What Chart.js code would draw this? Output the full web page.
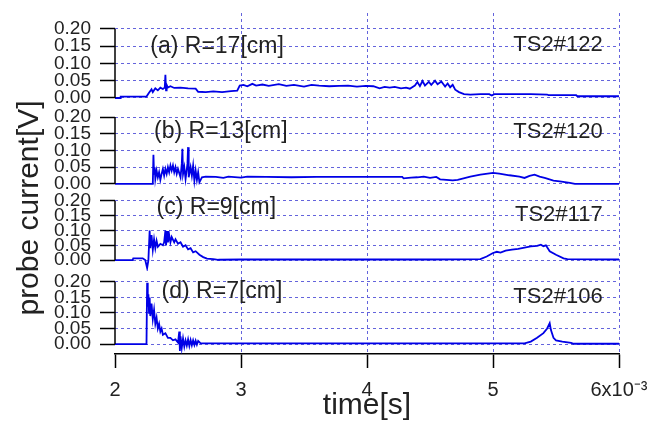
<!DOCTYPE html>
<html>
<head>
<meta charset="utf-8">
<script src="https://cdn.jsdelivr.net/npm/chart.js@4"></script>
<style>
  html, body { margin: 0; padding: 0; background: #fff; }
  #wrap { width: 654px; height: 421px; }
</style>
</head>
<body>
<div id="wrap"><canvas id="probeChart" width="654" height="421"></canvas></div>
<script>
// time [ms] and probe current [V]
const T_A = [2.00, 2.04, 2.045, 2.25, 2.27, 2.29, 2.30, 2.32, 2.34, 2.36, 2.38, 2.395, 2.40, 2.405, 2.41, 2.42, 2.44, 2.47, 2.52, 2.58, 2.64, 2.66, 2.72, 2.78, 2.85, 2.92, 2.97, 2.99, 3.02, 3.05, 3.09, 3.12, 3.17, 3.22, 3.30, 3.36, 3.42, 3.50, 3.56, 3.62, 3.70, 3.78, 3.85, 3.92, 3.99, 4.05, 4.10, 4.14, 4.18, 4.22, 4.27, 4.31, 4.34, 4.38, 4.40, 4.42, 4.44, 4.46, 4.49, 4.51, 4.54, 4.56, 4.59, 4.62, 4.64, 4.66, 4.68, 4.70, 4.73, 4.77, 4.82, 4.90, 4.97, 4.99, 5.01, 5.10, 5.30, 5.43, 5.44, 5.66, 5.67, 6.00];
const I_A = [0.000, 0.000, 0.004, 0.004, 0.015, 0.025, 0.017, 0.028, 0.022, 0.030, 0.026, 0.030, 0.067, 0.022, 0.038, 0.030, 0.034, 0.029, 0.030, 0.028, 0.027, 0.018, 0.017, 0.019, 0.017, 0.020, 0.021, 0.036, 0.038, 0.034, 0.041, 0.036, 0.039, 0.035, 0.040, 0.035, 0.038, 0.033, 0.038, 0.036, 0.034, 0.035, 0.036, 0.033, 0.035, 0.034, 0.028, 0.032, 0.030, 0.032, 0.028, 0.030, 0.027, 0.036, 0.046, 0.034, 0.049, 0.036, 0.047, 0.038, 0.050, 0.040, 0.048, 0.033, 0.042, 0.031, 0.038, 0.024, 0.017, 0.011, 0.010, 0.011, 0.011, 0.007, 0.011, 0.011, 0.011, 0.010, 0.008, 0.008, 0.005, 0.005];

const T_B = [2.00, 2.30, 2.305, 2.31, 2.315, 2.32, 2.33, 2.34, 2.35, 2.36, 2.37, 2.38, 2.39, 2.40, 2.41, 2.42, 2.43, 2.44, 2.45, 2.46, 2.47, 2.48, 2.49, 2.50, 2.52, 2.53, 2.535, 2.54, 2.55, 2.56, 2.575, 2.58, 2.585, 2.60, 2.61, 2.62, 2.63, 2.64, 2.65, 2.66, 2.67, 2.69, 2.72, 2.80, 2.86, 2.90, 3.00, 3.05, 3.20, 3.40, 3.60, 4.00, 4.28, 4.29, 4.35, 4.40, 4.45, 4.50, 4.55, 4.58, 4.68, 4.72, 4.82, 4.90, 5.00, 5.05, 5.13, 5.21, 5.25, 5.29, 5.33, 5.37, 5.41, 5.48, 5.53, 5.61, 5.65, 6.00];
const I_B = [0.000, 0.000, 0.087, 0.030, 0.050, 0.015, 0.040, 0.020, 0.035, 0.012, 0.030, 0.045, 0.025, 0.045, 0.030, 0.050, 0.035, 0.055, 0.040, 0.055, 0.035, 0.050, 0.030, 0.045, 0.020, 0.060, 0.105, 0.030, 0.050, 0.015, 0.060, 0.110, 0.020, 0.050, 0.025, 0.055, 0.010, 0.040, 0.012, 0.035, 0.005, 0.020, 0.022, 0.021, 0.018, 0.022, 0.019, 0.022, 0.021, 0.020, 0.021, 0.021, 0.021, 0.017, 0.019, 0.020, 0.022, 0.018, 0.021, 0.014, 0.011, 0.012, 0.022, 0.028, 0.033, 0.031, 0.026, 0.022, 0.018, 0.024, 0.028, 0.022, 0.018, 0.010, 0.008, 0.003, 0.000, 0.000];

const T_C = [2.00, 2.14, 2.145, 2.22, 2.24, 2.255, 2.265, 2.275, 2.28, 2.29, 2.30, 2.31, 2.32, 2.33, 2.34, 2.36, 2.38, 2.39, 2.40, 2.405, 2.415, 2.42, 2.43, 2.44, 2.45, 2.47, 2.48, 2.50, 2.52, 2.54, 2.56, 2.58, 2.60, 2.62, 2.64, 2.67, 2.70, 2.73, 2.78, 2.82, 3.00, 3.50, 4.00, 4.50, 4.90, 4.95, 5.00, 5.03, 5.06, 5.10, 5.15, 5.20, 5.25, 5.30, 5.35, 5.38, 5.40, 5.42, 5.45, 5.50, 5.56, 5.59, 6.00];
const I_C = [0.000, 0.000, 0.006, 0.006, 0.000, -0.027, 0.000, 0.100, 0.040, 0.085, 0.035, 0.070, 0.040, 0.065, 0.045, 0.055, 0.050, 0.060, 0.100, 0.050, 0.098, 0.060, 0.085, 0.060, 0.078, 0.060, 0.070, 0.055, 0.060, 0.045, 0.050, 0.036, 0.040, 0.026, 0.030, 0.018, 0.010, 0.005, 0.003, 0.001, 0.002, 0.002, 0.002, 0.002, 0.003, 0.012, 0.024, 0.028, 0.025, 0.032, 0.035, 0.038, 0.042, 0.046, 0.048, 0.052, 0.047, 0.050, 0.030, 0.018, 0.006, 0.003, 0.002];

const T_D = [2.00, 2.25, 2.255, 2.26, 2.265, 2.27, 2.275, 2.28, 2.29, 2.30, 2.31, 2.32, 2.33, 2.34, 2.35, 2.36, 2.37, 2.38, 2.40, 2.42, 2.44, 2.46, 2.48, 2.50, 2.51, 2.515, 2.52, 2.53, 2.54, 2.55, 2.56, 2.57, 2.58, 2.59, 2.60, 2.61, 2.62, 2.63, 2.64, 2.65, 2.66, 2.68, 2.75, 3.00, 4.00, 5.25, 5.30, 5.35, 5.40, 5.43, 5.45, 5.46, 5.48, 5.50, 5.55, 5.62, 5.64, 6.00];
const I_D = [0.000, 0.000, 0.197, 0.120, 0.160, 0.100, 0.150, 0.090, 0.130, 0.080, 0.110, 0.065, 0.085, 0.050, 0.065, 0.040, 0.050, 0.030, 0.035, 0.020, 0.020, 0.012, 0.015, 0.005, 0.040, -0.022, 0.025, -0.012, 0.018, -0.008, 0.012, -0.005, 0.015, -0.006, 0.013, -0.004, 0.012, -0.003, 0.011, -0.002, 0.010, 0.002, 0.002, 0.002, 0.002, 0.002, 0.008, 0.020, 0.035, 0.050, 0.067, 0.045, 0.020, 0.012, 0.008, 0.004, 0.001, 0.001];

const X_TICKS = [2, 3, 4, 5, 6];
const Y_TICKS = [0, 0.05, 0.10, 0.15, 0.20];
const PANEL_LABELS = ['(a) R=17[cm]', '(b) R=13[cm]', '(c) R=9[cm]', '(d) R=7[cm]'];
const SHOT_LABELS = ['TS2#122', 'TS2#120', 'TS2#117', 'TS2#106'];

const GRID = '#6464dc';
const LINE = '#0000e6';
const FONT = "'Liberation Sans', Arial, sans-serif";

function toPoints(t, v) {
    return t.map((x, i) => ({ x: x, y: v[i] }));
}

// panel layout: axis id, range and share of the stacked height
const PANELS = [
    { id: 'ya', min: -0.029, max: 0.246, weight: 95, labelT: 2.28, labelY: 0.148, shotY: 0.154 },
    { id: 'yb', min: -0.027, max: 0.227, weight: 85, labelT: 2.31, labelY: 0.155, shotY: 0.155 },
    { id: 'yc', min: -0.037, max: 0.227, weight: 78, labelT: 2.33, labelY: 0.176, shotY: 0.153 },
    { id: 'yd', min: -0.032, max: 0.235, weight: 83, labelT: 2.37, labelY: 0.168, shotY: 0.152 }
];

function panelAxis(p) {
    return {
        type: 'linear',
        position: 'left',
        stack: 'probe',
        stackWeight: p.weight,
        min: p.min,
        max: p.max,
        afterBuildTicks: s => { s.ticks = Y_TICKS.map(v => ({ value: v })); },
        afterFit: s => {
            s.width = 115;
            s.paddingTop = 0;
            s.paddingBottom = 0;
        },
        border: { display: false, dash: [3, 3] },
        grid: {
            color: GRID,
            tickColor: '#000',
            tickLength: 15,
            tickWidth: 1.5,
            tickBorderDash: []
        },
        ticks: {
            color: '#222',
            padding: 9,
            autoSkip: false,
            font: { family: FONT, size: 19 },
            callback: v => Number(v).toFixed(2)
        }
    };
}

const panelText = {
    id: 'panelText',
    afterDraw(chart) {
        const { ctx, chartArea } = chart;
        const xs = chart.scales.x;
        ctx.save();
        // left axis segment of each panel
        ctx.strokeStyle = '#000';
        ctx.lineWidth = 1.5;
        PANELS.forEach(p => {
            const s = chart.scales[p.id];
            ctx.beginPath();
            ctx.moveTo(chartArea.left, s.getPixelForValue(0.20));
            ctx.lineTo(chartArea.left, s.getPixelForValue(0));
            ctx.stroke();
        });
        // panel annotations
        ctx.fillStyle = '#222';
        ctx.textBaseline = 'middle';
        PANELS.forEach((p, i) => {
            const s = chart.scales[p.id];
            ctx.font = '23px ' + FONT;
            ctx.textAlign = 'left';
            ctx.fillText(PANEL_LABELS[i], xs.getPixelForValue(p.labelT), s.getPixelForValue(p.labelY));
            ctx.font = '22px ' + FONT;
            ctx.textAlign = 'right';
            ctx.fillText(SHOT_LABELS[i], xs.getPixelForValue(5.87), s.getPixelForValue(p.shotY));
        });
        // shared y title
        ctx.translate(30, 208);
        ctx.rotate(-Math.PI / 2);
        ctx.textAlign = 'center';
        ctx.font = '30px ' + FONT;
        ctx.fillText('probe current[V]', 0, 0);
        ctx.restore();
    }
};

const scales = {
    x: {
        type: 'linear',
        min: 2,
        max: 6,
        afterBuildTicks: s => { s.ticks = X_TICKS.map(v => ({ value: v })); },
        afterFit: s => {
            s.height = 67;
            s.paddingLeft = 0;
            s.paddingRight = 0;
        },
        border: { display: true, color: '#000', width: 1.5, dash: [3, 3] },
        grid: {
            color: c => (c.tick && c.tick.value === 2) ? 'rgba(0,0,0,0)' : GRID,
            tickColor: '#000',
            tickLength: 14,
            tickWidth: 1.5,
            tickBorderDash: []
        },
        ticks: {
            color: '#222',
            padding: 10,
            autoSkip: false,
            maxRotation: 0,
            font: { family: FONT, size: 20 },
            callback: v => v === 6 ? '6x10\u207B\u00B3' : String(v)
        },
        title: {
            display: true,
            text: 'time[s]',
            color: '#222',
            padding: { top: 0, bottom: 0 },
            font: { family: FONT, size: 30, lineHeight: 1 }
        }
    }
};
// bottom panel first so that (a) lands on top of the stack
PANELS.slice().reverse().forEach(p => { scales[p.id] = panelAxis(p); });

const series = [[T_A, I_A], [T_B, I_B], [T_C, I_C], [T_D, I_D]];

new Chart(document.getElementById('probeChart'), {
    type: 'line',
    data: {
        datasets: series.map((s, i) => ({
            label: PANEL_LABELS[i],
            data: toPoints(s[0], s[1]),
            yAxisID: PANELS[i].id,
            borderColor: LINE,
            borderWidth: 1.8,
            pointRadius: 0,
            tension: 0,
            fill: false
        }))
    },
    options: {
        responsive: false,
        animation: false,
        devicePixelRatio: 1,
        layout: { padding: { top: 13, right: 35, bottom: 0, left: 0 } },
        plugins: {
            legend: { display: false },
            tooltip: { enabled: false }
        },
        scales: scales
    },
    plugins: [panelText]
});
</script>
</body>
</html>
